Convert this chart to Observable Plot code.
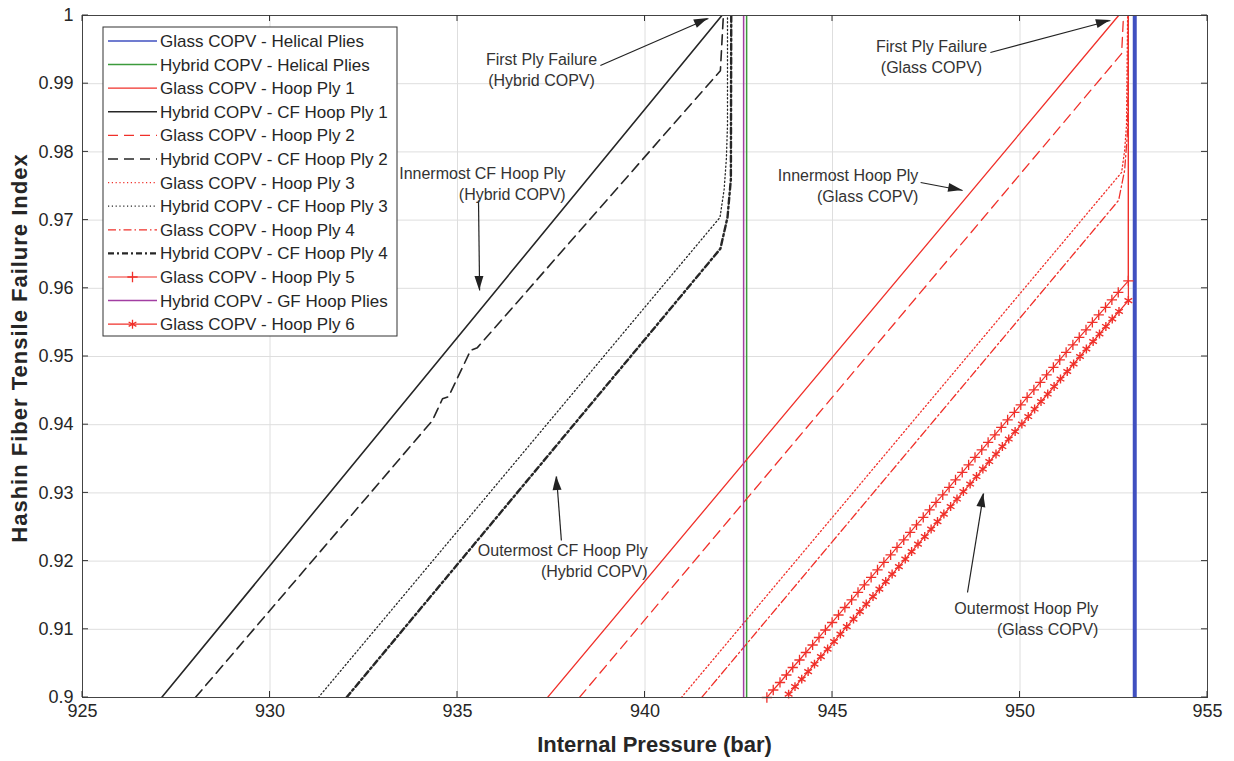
<!DOCTYPE html>
<html><head><meta charset="utf-8">
<script src="https://cdn.jsdelivr.net/npm/d3@7"></script>
<script src="https://cdn.jsdelivr.net/npm/@observablehq/plot@0.6"></script>
<style>
body{margin:0;background:#fff;}
#chart{position:relative;width:1234px;height:761px;}
</style></head><body><div id="chart"></div>
<script>
// ---------- axis ticks ----------
const xTickValues = [925, 930, 935, 940, 945, 950, 955];
const yTickValues = [0.9, 0.91, 0.92, 0.93, 0.94, 0.95, 0.96, 0.97, 0.98, 0.99, 1];
const yTickLabels = ["0.9", "0.91", "0.92", "0.93", "0.94", "0.95", "0.96", "0.97", "0.98", "0.99", "1"];

// ---------- series (pressure in bar, failure index) ----------
const seriesNames = [
  "Glass COPV - Helical Plies", "Hybrid COPV - Helical Plies", "Glass COPV - Hoop Ply 1",
  "Hybrid COPV - CF Hoop Ply 1", "Glass COPV - Hoop Ply 2", "Hybrid COPV - CF Hoop Ply 2",
  "Glass COPV - Hoop Ply 3", "Hybrid COPV - CF Hoop Ply 3", "Glass COPV - Hoop Ply 4",
  "Hybrid COPV - CF Hoop Ply 4", "Glass COPV - Hoop Ply 5", "Hybrid COPV - GF Hoop Plies",
  "Glass COPV - Hoop Ply 6"
];

const glassHelicalP = [953.06, 953.06];
const glassHelicalF = [0.9, 1.0];
const hybridHelicalP = [942.71, 942.71];
const hybridHelicalF = [0.9, 1.0];
const hybridGFP = [942.63, 942.63];
const hybridGFF = [0.9, 1.0];

const hybPly1P = [927.11, 942.05];
const hybPly1F = [0.900, 1.000];
const hybPly2P = [928.01, 934.33, 934.60, 934.76, 935.35, 935.53, 942.01, 942.09];
const hybPly2F = [0.900, 0.9406, 0.9438, 0.9441, 0.9509, 0.9513, 0.9919, 1.000];
const hybPly3P = [931.29, 942.00, 942.11, 942.17, 942.20, 942.20];
const hybPly3F = [0.900, 0.9704, 0.9745, 0.9790, 0.9840, 1.000];
const hybPly4P = [932.04, 942.01, 942.20, 942.29, 942.30];
const hybPly4F = [0.900, 0.9658, 0.9704, 0.9760, 1.000];

const glassPly1P = [937.40, 952.63];
const glassPly1F = [0.900, 1.000];
const glassPly2P = [938.25, 952.71, 952.76];
const glassPly2F = [0.900, 0.9944, 1.000];
const glassPly3P = [940.97, 952.71, 952.79, 952.84, 952.87];
const glassPly3F = [0.900, 0.9770, 0.9802, 0.9839, 1.000];
const glassPly4P = [941.51, 952.63, 952.79, 952.87, 952.89];
const glassPly4F = [0.900, 0.9729, 0.9773, 0.9831, 1.000];

const glassPly5P = [943.25,943.42,943.60,943.77,943.94,944.12,944.29,944.47,944.64,944.81,944.99,945.16,945.33,945.51,945.68,945.85,946.03,946.20,946.37,946.55,946.72,946.90,947.07,947.24,947.42,947.59,947.76,947.94,948.11,948.28,948.46,948.63,948.80,948.98,949.15,949.33,949.50,949.67,949.85,950.02,950.19,950.37,950.54,950.71,950.89,951.06,951.23,951.41,951.58,951.76,951.93,952.10,952.28,952.45,952.62,952.89];
const glassPly5F = [0.9000,0.9011,0.9022,0.9033,0.9044,0.9055,0.9066,0.9077,0.9088,0.9099,0.9110,0.9121,0.9132,0.9143,0.9154,0.9165,0.9176,0.9187,0.9198,0.9209,0.9220,0.9231,0.9242,0.9253,0.9264,0.9275,0.9286,0.9297,0.9308,0.9319,0.9330,0.9341,0.9352,0.9363,0.9374,0.9385,0.9396,0.9407,0.9418,0.9429,0.9440,0.9451,0.9462,0.9473,0.9484,0.9495,0.9506,0.9517,0.9528,0.9539,0.9550,0.9561,0.9572,0.9583,0.9594,0.9611];
const glassPly5TailP = [952.89];
const glassPly5TailF = [1.000];

const glassPly6P = [943.83,944.00,944.18,944.35,944.52,944.69,944.87,945.04,945.21,945.38,945.56,945.73,945.90,946.08,946.25,946.42,946.59,946.77,946.94,947.11,947.28,947.46,947.63,947.80,947.97,948.15,948.32,948.49,948.67,948.84,949.01,949.18,949.36,949.53,949.70,949.87,950.05,950.22,950.39,950.56,950.74,950.91,951.08,951.26,951.43,951.60,951.77,951.95,952.12,952.29,952.46,952.64,952.89];
const glassPly6F = [0.9005,0.9016,0.9027,0.9038,0.9049,0.9060,0.9071,0.9082,0.9093,0.9104,0.9115,0.9126,0.9137,0.9148,0.9159,0.9170,0.9181,0.9192,0.9203,0.9214,0.9225,0.9236,0.9247,0.9258,0.9269,0.9280,0.9291,0.9302,0.9313,0.9324,0.9335,0.9346,0.9357,0.9368,0.9379,0.9390,0.9401,0.9412,0.9423,0.9434,0.9445,0.9456,0.9467,0.9478,0.9489,0.9500,0.9511,0.9522,0.9533,0.9544,0.9555,0.9566,0.9582];
const glassPly6TailP = [952.89];
const glassPly6TailF = [1.000];

// ---------- annotations ----------
const annoText = ["First Ply Failure\n(Hybrid COPV)", "First Ply Failure\n(Glass COPV)",
  "Innermost CF Hoop Ply\n(Hybrid COPV)", "Innermost Hoop Ply\n(Glass COPV)",
  "Outermost CF Hoop Ply\n(Hybrid COPV)", "Outermost Hoop Ply\n(Glass COPV)"];
const annoP = [937.24, 947.64, 937.88, 947.29, 940.07, 952.09];
const annoF = [0.99216, 0.99406, 0.97551, 0.97522, 0.92016, 0.91173];
const annoAlign = ["middle", "middle", "end", "end", "end", "end"];
const arrowFromP = [938.81, 949.21, 935.56, 947.35, 937.77, 948.60];
const arrowFromF = [0.99267, 0.99457, 0.97287, 0.97551, 0.92302, 0.91540];
const arrowToP = [941.69, 952.41, 935.59, 948.47, 937.64, 949.03];
const arrowToF = [0.99956, 0.99927, 0.95968, 0.97434, 0.93240, 0.92991];

// ---------- styles ----------
const FONT = "'Liberation Sans', Arial, Helvetica, sans-serif";
const RED = "#f0302a", BLACK = "#262626";
const styleOf = {
  "Glass COPV - Helical Plies": {stroke: "#4050c0", w: 4, lw: 1.5},
  "Hybrid COPV - Helical Plies": {stroke: "#3c9b3c", w: 1.5},
  "Glass COPV - Hoop Ply 1": {stroke: RED, w: 1.3},
  "Hybrid COPV - CF Hoop Ply 1": {stroke: BLACK, w: 1.6},
  "Glass COPV - Hoop Ply 2": {stroke: RED, w: 1.3, dash: "10,6"},
  "Hybrid COPV - CF Hoop Ply 2": {stroke: BLACK, w: 1.6, dash: "10,6"},
  "Glass COPV - Hoop Ply 3": {stroke: RED, w: 1.3, dash: "1.2,2.6"},
  "Hybrid COPV - CF Hoop Ply 3": {stroke: BLACK, w: 1.3, dash: "1.2,2.6"},
  "Glass COPV - Hoop Ply 4": {stroke: RED, w: 1.3, dash: "8,3,1.5,3"},
  "Hybrid COPV - CF Hoop Ply 4": {stroke: BLACK, w: 2.4, dash: "6,3,2,3"},
  "Glass COPV - Hoop Ply 5": {stroke: RED, w: 1.2, symbol: "plus", r: 3.4},
  "Hybrid COPV - GF Hoop Plies": {stroke: "#a23ea2", w: 1.5},
  "Glass COPV - Hoop Ply 6": {stroke: RED, w: 1.2, symbol: "asterisk", r: 4.2}
};

const seriesData = [
  [glassHelicalP, glassHelicalF], [hybridHelicalP, hybridHelicalF], [glassPly1P, glassPly1F],
  [hybPly1P, hybPly1F], [glassPly2P, glassPly2F], [hybPly2P, hybPly2F],
  [glassPly3P, glassPly3F], [hybPly3P, hybPly3F], [glassPly4P, glassPly4F],
  [hybPly4P, hybPly4F], [glassPly5P.concat(glassPly5TailP), glassPly5F.concat(glassPly5TailF)],
  [hybridGFP, hybridGFF], [glassPly6P.concat(glassPly6TailP), glassPly6F.concat(glassPly6TailF)]
];

const toRows = (P, F) => P.map((p, i) => ({p, f: F[i]}));

const lineMarks = seriesNames.map((name, k) => {
  const st = styleOf[name];
  return Plot.line(toRows(seriesData[k][0], seriesData[k][1]), {
    x: "p", y: "f", stroke: st.stroke, strokeWidth: st.w,
    strokeDasharray: st.dash, strokeLinejoin: "round", clip: true
  });
});

const s5 = styleOf["Glass COPV - Hoop Ply 5"], s6 = styleOf["Glass COPV - Hoop Ply 6"];
const markerMarks = [
  Plot.dot(toRows(glassPly5P, glassPly5F), {x: "p", y: "f", symbol: "plus", r: s5.r, stroke: RED, strokeWidth: 1.3, fill: "none"}),
  Plot.dot(toRows(glassPly6P, glassPly6F), {x: "p", y: "f", symbol: "asterisk", r: s6.r, stroke: RED, strokeWidth: 1.4, fill: "none"})
];

const annoRows = annoText.map((t, i) => ({t, p: annoP[i], f: annoF[i], a: annoAlign[i]}));
const arrowRows = arrowFromP.map((p, i) => ({x1: p, y1: arrowFromF[i], x2: arrowToP[i], y2: arrowToF[i]}));

const plot = Plot.plot({
  width: 1234, height: 761,
  marginLeft: 82, marginRight: 27, marginTop: 15, marginBottom: 64,
  style: {fontFamily: FONT, fontSize: "16px", color: "#262626", background: "#fff"},
  x: {domain: [925, 955], label: null},
  y: {domain: [0.9, 1], label: null},
  marks: [
    Plot.gridX(xTickValues, {stroke: "#dedede", strokeOpacity: 1, strokeWidth: 1}),
    Plot.gridY(yTickValues, {stroke: "#dedede", strokeOpacity: 1, strokeWidth: 1}),
    Plot.axisX(xTickValues, {anchor: "bottom", tickSize: 0, tickPadding: 7, fontSize: 18, label: null, tickFormat: d => String(d)}),
    Plot.axisY(yTickValues, {anchor: "left", tickSize: 0, tickPadding: 9, fontSize: 18, label: null, tickFormat: d => yTickLabels[yTickValues.indexOf(d)]}),
    ...lineMarks,
    ...markerMarks,
    Plot.link(arrowRows, {x1: "x1", y1: "y1", x2: "x2", y2: "y2", stroke: "#222", strokeWidth: 1.2}),
    Plot.text(annoRows.filter(d => d.a === "middle"), {x: "p", y: "f", text: "t", textAnchor: "middle", lineAnchor: "middle", lineHeight: 1.3, fontSize: 16, fill: "#333"}),
    Plot.text(annoRows.filter(d => d.a === "end"), {x: "p", y: "f", text: "t", textAnchor: "end", lineAnchor: "middle", lineHeight: 1.3, fontSize: 16, fill: "#333"}),
    Plot.frame({stroke: "#444", strokeWidth: 1})
  ]
});

document.getElementById("chart").appendChild(plot);

// ---------- extras drawn through the plot's own scales ----------
const svg = d3.select(plot);
const sx = plot.scale("x"), sy = plot.scale("y");
const X0 = sx.apply(925), X1 = sx.apply(955), Y0 = sy.apply(0.9), Y1 = sy.apply(1);

// inside ticks on all four sides
const gt = svg.append("g").attr("stroke", "#333").attr("stroke-width", 1);
xTickValues.forEach(t => {
  const X = sx.apply(t);
  gt.append("line").attr("x1", X).attr("x2", X).attr("y1", Y0).attr("y2", Y0 - 6);
  gt.append("line").attr("x1", X).attr("x2", X).attr("y1", Y1).attr("y2", Y1 + 6);
});
yTickValues.forEach(t => {
  const Y = sy.apply(t);
  gt.append("line").attr("x1", X0).attr("x2", X0 + 6).attr("y1", Y).attr("y2", Y);
  gt.append("line").attr("x1", X1).attr("x2", X1 - 6).attr("y1", Y).attr("y2", Y);
});

// arrow heads
const gh = svg.append("g").attr("fill", "#222");
arrowRows.forEach(a => {
  const ax = sx.apply(a.x1), ay = sy.apply(a.y1), bx = sx.apply(a.x2), by = sy.apply(a.y2);
  const ang = Math.atan2(by - ay, bx - ax), L = 14, W = 4.5;
  const cx = bx - L * Math.cos(ang), cy = by - L * Math.sin(ang);
  const px = -Math.sin(ang) * W, py = Math.cos(ang) * W;
  gh.append("path").attr("d", `M${bx},${by}L${cx + px},${cy + py}L${cx - px},${cy - py}Z`);
});

// axis labels
svg.append("text").attr("x", (X0 + X1) / 2 + 10).attr("y", 752)
  .attr("text-anchor", "middle").attr("font-family", FONT).attr("font-weight", "bold")
  .attr("font-size", 22).attr("fill", "#262626").text("Internal Pressure (bar)");
svg.append("text").attr("transform", `translate(27,${(Y0 + Y1) / 2 - 8}) rotate(-90)`)
  .attr("text-anchor", "middle").attr("font-family", FONT).attr("font-weight", "bold")
  .attr("font-size", 22).attr("letter-spacing", 1).attr("fill", "#262626").text("Hashin Fiber Tensile Failure Index");

// legend
const lg = svg.append("g").attr("font-family", FONT).attr("font-size", 17).attr("fill", "#262626")
  .attr("text-anchor", "start");
lg.append("rect").attr("x", 103).attr("y", 27).attr("width", 294).attr("height", 309)
  .attr("fill", "#fff").attr("stroke", "#333").attr("stroke-width", 1);
seriesNames.forEach((n, i) => {
  const y = 41 + i * 23.6, st = styleOf[n];
  lg.append("line").attr("x1", 108).attr("x2", 157).attr("y1", y).attr("y2", y)
    .attr("stroke", st.stroke).attr("stroke-width", st.lw || st.w)
    .attr("stroke-dasharray", st.dash || null);
  if (st.symbol) {
    const sym = st.symbol === "plus" ? d3.symbolPlus : d3.symbolAsterisk;
    lg.append("path").attr("d", d3.symbol(sym, Math.PI * st.r * st.r)())
      .attr("transform", `translate(132.5,${y})`).attr("fill", "none")
      .attr("stroke", st.stroke).attr("stroke-width", 1.3);
  }
  lg.append("text").attr("x", 160).attr("y", y).attr("dy", "0.35em").attr("text-anchor", "start").text(n);
});
</script>
</body></html>
